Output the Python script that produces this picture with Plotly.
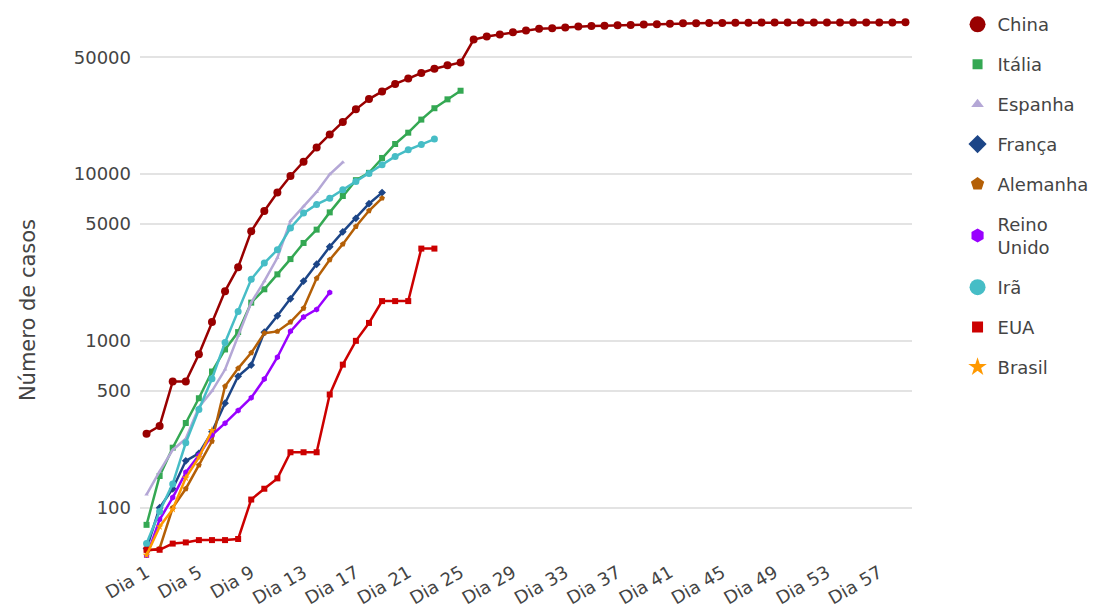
import plotly.graph_objects as go
import math

days = [f"Dia {i}" for i in range(1, 60)]
tick_days = [f"Dia {i}" for i in range(1, 60, 4)]
y_ticks = [100, 500, 1000, 5000, 10000, 50000]

china = [278, 309, 571, 571, 830, 1297, 1985, 2761, 4537, 5997, 7736, 9720, 11821,
         14411, 17238, 20471, 24363, 28060, 31211, 34598, 37251, 40235, 42708, 44730,
         46550, 63851, 66492, 68500, 70548, 72436, 74185, 74576, 75465, 76288, 76936,
         77150, 77658, 78064, 78497, 78824, 79251, 79824, 80026, 80151, 80270, 80409,
         80552, 80651, 80695, 80735, 80754, 80778, 80793, 80813, 80824, 80844, 80860,
         80881, 80894]
italia = [79, 155, 229, 322, 453, 655, 888, 1128, 1694, 2036, 2502, 3089, 3858, 4636,
          5883, 7375, 9172, 10149, 12462, 15113, 17660, 21157, 24747, 27980, 31506]
espanha = [120, 165, 222, 259, 400, 500, 673, 1073, 1695, 2277, 3146, 5232, 6391,
           7798, 9942, 11748]
franca = [57, 100, 130, 191, 212, 285, 423, 613, 716, 1126, 1412, 1784, 2281, 2876,
          3661, 4499, 5423, 6633, 7730]
alemanha = [55, 57, 100, 130, 180, 250, 534, 684, 847, 1112, 1139, 1296, 1567, 2369,
            3062, 3795, 4838, 6012, 7156]
reino_unido = [51, 85, 115, 163, 206, 273, 321, 382, 456, 590, 798, 1140, 1391, 1543, 1950]
ira = [61, 95, 139, 245, 388, 593, 978, 1501, 2336, 2922, 3513, 4747, 5823, 6566, 7161,
       8042, 9000, 10075, 11364, 12729, 13938, 14991, 16169]
eua = [56, 56, 61, 62, 64, 64, 64, 65, 112, 130, 150, 215, 215, 215, 477, 720, 1000,
       1280, 1730, 1730, 1730, 3570, 3570]
brasil = [52, 77, 98, 151, 200, 291]

series = [
    ("China", china, "#990000", "circle", 8, 17),
    ("Itália", italia, "#34a853", "square", 6, 10),
    ("Espanha", espanha, "#b4a7d6", "triangle-up", 4, 11),
    ("França", franca, "#1c4587", "diamond", 6, 14),
    ("Alemanha", alemanha, "#b45f06", "pentagon", 6, 14),
    ("Reino<br>Unido", reino_unido, "#9900ff", "hexagon", 6, 14),
    ("Irã", ira, "#46bdc6", "circle", 7, 16),
    ("EUA", eua, "#cc0000", "square", 6, 11),
    ("Brasil", brasil, "#ff9900", "star", 6, 14),
]

FONT = "DejaVu Sans, Liberation Sans, Arial, sans-serif"

fig = go.Figure()
for name, vals, color, sym, msize, lsize in series:
    fig.add_trace(go.Scatter(
        x=days[:len(vals)], y=vals, mode="lines+markers",
        line=dict(color=color, width=2.5),
        marker=dict(color=color, size=msize, symbol=sym),
        showlegend=False, hoverinfo="x+y", name=name.replace("<br>", " ")))
for i, (name, vals, color, sym, msize, lsize) in enumerate(series):
    fig.add_trace(go.Scatter(
        x=[None], y=[None], mode="markers", name=name, legendgroup=f"g{i}",
        marker=dict(color=color, size=lsize, symbol=sym), showlegend=True))

fig.update_layout(
    width=1100, height=616,
    paper_bgcolor="white", plot_bgcolor="white",
    margin=dict(l=140, r=188, t=7, b=54.4),
    font=dict(family=FONT, size=18, color="#444"),
    legend=dict(xref="container", yref="container", x=0.8705, y=0.99,
                xanchor="left", yanchor="top", tracegroupgap=13.5, maxheight=616,
                font=dict(family=FONT, size=18, color="#444"), itemsizing="trace"),
    annotations=[dict(text="Número de casos", xref="paper", yref="paper",
                      x=-0.145, y=0.45, xanchor="center", yanchor="middle",
                      textangle=-90, showarrow=False,
                      font=dict(family=FONT, size=21, color="#444"))],
)
fig.update_xaxes(type="category", categoryorder="array", categoryarray=days,
                 range=[-0.5, 58.5], tickmode="array", tickvals=tick_days,
                 ticktext=tick_days, tickangle=-30, showgrid=False,
                 showline=False, zeroline=False, ticks="",
                 tickfont=dict(family=FONT, size=18, color="#444"))
fig.update_yaxes(type="log", range=[math.log10(50), 5], tickmode="array",
                 tickvals=y_ticks, ticktext=[str(v) for v in y_ticks],
                 showgrid=True, gridcolor="#e3e3e3", gridwidth=1.5,
                 zeroline=False, showline=False, ticks="", ticklabelstandoff=8,
                 tickfont=dict(family=FONT, size=18, color="#444"))
fig.write_html("out.html", config={"displayModeBar": False},
               post_script="document.body.style.margin='0';")
